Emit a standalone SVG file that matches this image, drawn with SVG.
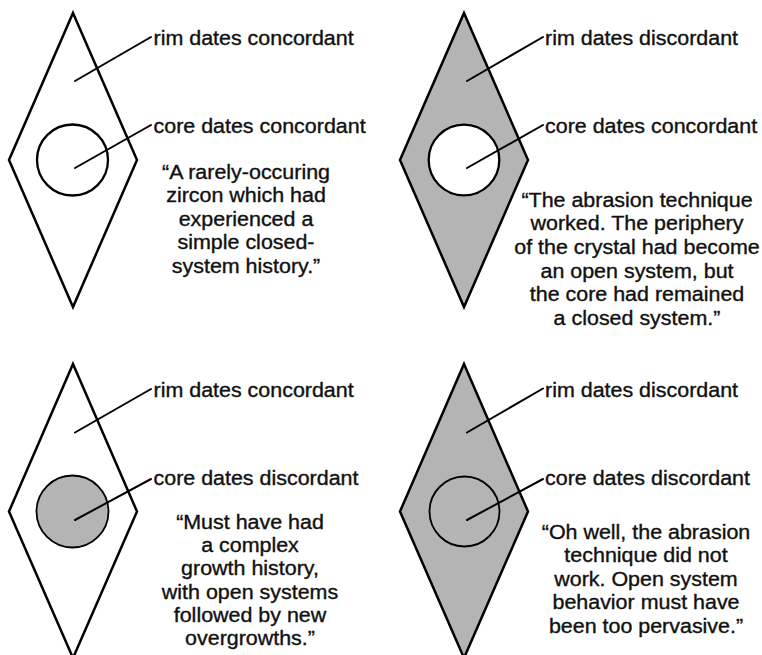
<svg xmlns="http://www.w3.org/2000/svg" width="762" height="655" viewBox="0 0 762 655">
<style>
.dia{stroke:#000;stroke-width:2.5;stroke-linejoin:miter}
.open{fill:#fff}
.grey{fill:#b4b4b4}
.core{stroke:#000;stroke-width:2.3}
.core-thin{stroke:#000;stroke-width:1.8}
.lead{stroke:#000;stroke-width:2;fill:none;stroke-linecap:round}
text{font-family:"Liberation Sans",Arial,Helvetica,sans-serif;font-size:19.5px;fill:#111;stroke:#111;stroke-width:0.35}
.q text{text-anchor:middle}
</style>
<rect width="762" height="655" fill="#fff"/>

<g id="panel-a">
  <polygon class="dia open" points="73,13 137,160 73,307 9,160"/>
  <circle class="core open" cx="72.5" cy="160" r="35.5"/>
</g>
<g id="panel-b">
  <polygon class="dia grey" points="464,13 528,160 464,307 400,160"/>
  <circle class="core open" cx="464" cy="160" r="35.3"/>
</g>
<g id="panel-c">
  <polygon class="dia open" points="73,364 137,511.5 73,658 9,511.5"/>
  <circle class="core-thin grey" cx="72.5" cy="511.5" r="36"/>
</g>
<g id="panel-d">
  <polygon class="dia grey" points="464,364 528,511.5 464,658 400,511.5"/>
  <circle class="core-thin grey" cx="464.5" cy="511.5" r="35"/>
</g>

<g id="connectors">
  <line class="lead" x1="75" y1="81" x2="151" y2="37"/>
  <line class="lead" x1="75" y1="168" x2="151" y2="125"/>
  <line class="lead" x1="467" y1="81" x2="543" y2="37"/>
  <line class="lead" x1="467" y1="168" x2="543" y2="125"/>
  <line class="lead" x1="75" y1="432.5" x2="151" y2="389"/>
  <line class="lead" x1="75" y1="520" x2="151" y2="479"/>
  <line class="lead" x1="467" y1="432.5" x2="543" y2="388.5"/>
  <line class="lead" x1="467" y1="520" x2="543" y2="479"/>
</g>

<g id="labels-a" transform="translate(153.5 0) scale(1.1 1)">
  <text x="0" y="45.5">rim dates concordant</text>
  <text x="0" y="133">core dates concordant</text>
</g>
<g id="labels-b" transform="translate(545 0) scale(1.1 1)">
  <text x="0" y="45.5">rim dates discordant</text>
  <text x="0" y="133">core dates concordant</text>
</g>
<g id="labels-c" transform="translate(153.5 0) scale(1.1 1)">
  <text x="0" y="397">rim dates concordant</text>
  <text x="0" y="485">core dates discordant</text>
</g>
<g id="labels-d" transform="translate(545 0) scale(1.1 1)">
  <text x="0" y="397">rim dates discordant</text>
  <text x="0" y="485">core dates discordant</text>
</g>

<g id="quote-a" class="q" transform="translate(246 0) scale(1.1 1)">
  <text x="0" y="179">“A rarely-occuring</text>
  <text x="0" y="202.5">zircon which had</text>
  <text x="0" y="226">experienced a</text>
  <text x="0" y="249.5">simple closed-</text>
  <text x="0" y="273">system history.”</text>
</g>
<g id="quote-b" class="q" transform="translate(637 0) scale(1.1 1)">
  <text x="0" y="207">“The abrasion technique</text>
  <text x="0" y="230.5">worked. The periphery</text>
  <text x="0" y="254">of the crystal had become</text>
  <text x="0" y="278">an open system, but</text>
  <text x="0" y="301.5">the core had remained</text>
  <text x="0" y="325">a closed system.”</text>
</g>
<g id="quote-c" class="q" transform="translate(250 0) scale(1.1 1)">
  <text x="0" y="529">“Must have had</text>
  <text x="0" y="552.5">a complex</text>
  <text x="0" y="575.5">growth history,</text>
  <text x="0" y="599">with open systems</text>
  <text x="0" y="622">followed by new</text>
  <text x="0" y="645.5">overgrowths.”</text>
</g>
<g id="quote-d" class="q" transform="translate(646 0) scale(1.1 1)">
  <text x="0" y="539.5">“Oh well, the abrasion</text>
  <text x="0" y="562.5">technique did not</text>
  <text x="0" y="586">work. Open system</text>
  <text x="0" y="609.5">behavior must have</text>
  <text x="0" y="633">been too pervasive.”</text>
</g>
</svg>
